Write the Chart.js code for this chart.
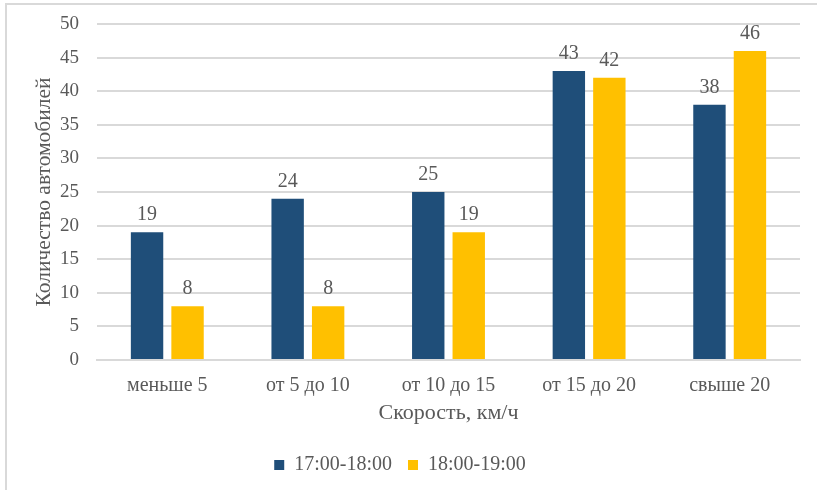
<!DOCTYPE html>
<html>
<head>
<meta charset="utf-8">
<script src="https://cdn.jsdelivr.net/npm/chart.js@4.4.1/dist/chart.umd.min.js"></script>
<style>
  html, body { margin: 0; padding: 0; background: #fff; }
  #wrap { position: relative; width: 817px; height: 490px; overflow: hidden; }
  #frame { position: absolute; left: 5px; top: 3px; width: 830px; height: 500px;
           border-left: 2px solid #d9d9d9; border-top: 2px solid #d9d9d9; box-sizing: border-box; }
  canvas { position: absolute; left: 0; top: 0; }
</style>
</head>
<body>
<div id="wrap">
  <div id="frame"></div>
  <canvas id="c" width="817" height="490"></canvas>
</div>
<script>
const categories = ['меньше 5', 'от 5 до 10', 'от 10 до 15', 'от 15 до 20', 'свыше 20'];
const series1Name = '17:00-18:00';
const series2Name = '18:00-19:00';
const series1 = [19, 24, 25, 43, 38];
const series2 = [8, 8, 19, 42, 46];
const yTitle = 'Количество автомобилей';
const xTitle = 'Скорость, км/ч';

const TEXT = '#595959';
const GRID = '#d9d9d9';
const SERIF = "'Liberation Serif', 'Times New Roman', serif";

// Value labels above each bar
const valueLabels = {
  id: 'valueLabels',
  afterDatasetsDraw(chart) {
    const ctx = chart.ctx;
    ctx.save();
    ctx.font = '20px ' + SERIF;
    ctx.fillStyle = TEXT;
    ctx.textAlign = 'center';
    ctx.textBaseline = 'alphabetic';
    chart.data.datasets.forEach((ds, i) => {
      chart.getDatasetMeta(i).data.forEach((bar, j) => {
        ctx.fillText(String(ds.data[j]), bar.x, bar.y - 12);
      });
    });
    ctx.restore();
  }
};

new Chart(document.getElementById('c'), {
  type: 'bar',
  data: {
    labels: categories,
    datasets: [
      { label: series1Name, data: series1, backgroundColor: '#1f4e79',
        categoryPercentage: 0.576, barPercentage: 0.8 },
      { label: series2Name, data: series2, backgroundColor: '#ffc000',
        categoryPercentage: 0.576, barPercentage: 0.8 }
    ]
  },
  options: {
    responsive: false,
    animation: false,
    layout: { padding: { left: 0, right: 17, top: 24, bottom: 5 } },
    plugins: {
      legend: {
        position: 'bottom',
        labels: {
          color: TEXT,
          font: { family: SERIF, size: 20 },
          boxWidth: 10, boxHeight: 10,
          padding: 16
        }
      },
      tooltip: { enabled: false }
    },
    scales: {
      x: {
        grid: { display: false, drawTicks: false },
        border: { display: true, color: GRID, width: 2 },
        ticks: { color: TEXT, font: { family: SERIF, size: 20 }, padding: 14 },
        title: { display: true, text: xTitle, color: TEXT,
                 font: { family: SERIF, size: 22 }, padding: { top: 2, bottom: 13 } },
        afterFit(scale) { scale.height = 79; }
      },
      y: {
        min: 0, max: 50,
        ticks: { stepSize: 5, color: TEXT, font: { family: SERIF, size: 19 }, padding: 0 },
        grid: { color: GRID, lineWidth: 2, drawTicks: true, tickLength: 18, tickColor: 'rgba(0,0,0,0)' },
        border: { display: false },
        title: { display: true, text: yTitle, color: TEXT,
                 font: { family: SERIF, size: 21.5 }, padding: { top: 31, bottom: 0 } },
        afterFit(scale) { scale.width = 97; }
      }
    }
  },
  plugins: [valueLabels]
});
</script>
</body>
</html>
